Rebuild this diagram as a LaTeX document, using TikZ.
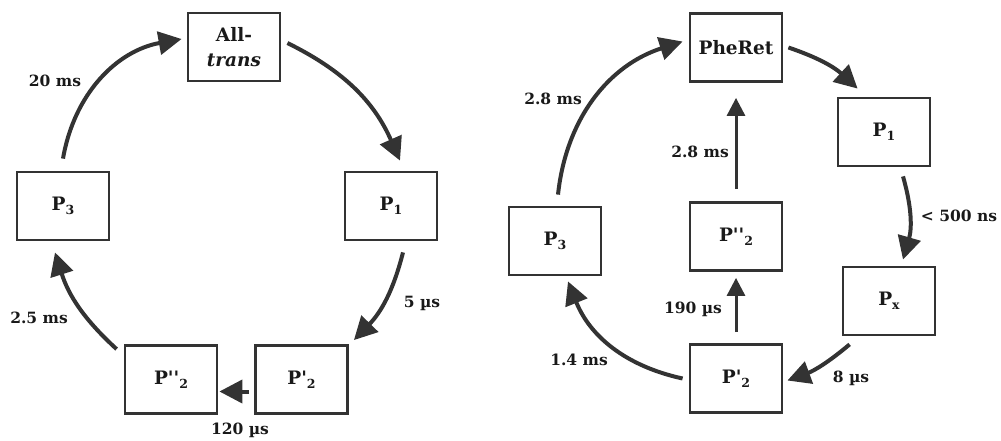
\documentclass[tikz,border=0pt]{standalone}
\usepackage{fontspec}
\setmainfont{DejaVu Serif}
\usetikzlibrary{arrows.meta}
\definecolor{ink}{HTML}{333333}
\newcommand{\mysub}[1]{\raisebox{-0.45ex}{\fontsize{12.5}{12.5}\selectfont #1}}
\tikzset{
  box/.style={draw=ink, line width=2.8pt, minimum width=92pt, minimum height=68pt, inner sep=0pt, font=\fontsize{18.5}{25}\selectfont\bfseries, align=center, text=black!90},
  arr/.style={draw=ink, line width=4pt, -{Triangle[length=23pt,width=23pt]}},
  thinarr/.style={draw=ink, line width=3pt, -{Triangle[length=18pt,width=18pt]}},
  lbl/.style={font=\fontsize{15.5}{18}\selectfont\bfseries, text=black!90, inner sep=0pt}
}
\begin{document}
\begin{tikzpicture}[x=1pt,y=-1pt]
\useasboundingbox (0,0) rectangle (1001,441);
% left cycle
\node[box] (at) at (234,47) {All-\\\textit{trans}};
\node[box] (p3L) at (63,206) {P\mysub{3}};
\node[box] (p1L) at (391,206) {P\mysub{1}};
\node[box] (p2bL) at (171,379.5) {P\textquotesingle\textquotesingle\mysub{2}};
\node[box] (p2aL) at (301.5,379.5) {P\textquotesingle\mysub{2}};
\draw[arr] ([shift={(0,-12)}]p3L.north) to[bend left=35] ([shift={(-5,-8)}]at.west);
\draw[arr] ([shift={(6,-4)}]at.east) to[bend left=20] ([shift={(9,-10)}]p1L.north);
\draw[arr] ([shift={(12,11)}]p1L.south) to[bend left=15] ([shift={(5,-4)}]p2aL.north east);
\draw[arr] ([shift={(-5,12)}]p2aL.west) -- ([shift={(1,12)}]p2bL.east);
\draw[arr] ([shift={(-7,5)}]p2bL.north west) to[bend left=15] ([shift={(-8,11)}]p3L.south);
\node[lbl] (l20) at (55,81) {20 ms};
\node[lbl] (l5) at (422,303) {5 µs};
\node[lbl] (l120) at (240,430) {120 µs};
\node[lbl] (l25) at (39,318) {2.5 ms};
% right cycle
\node[box] (pr) at (736,47.5) {PheRet};
\node[box] (p1R) at (884,132) {P\mysub{1}};
\node[box] (p3R) at (555,241) {P\mysub{3}};
\node[box] (p2bR) at (736,236.5) {P\textquotesingle\textquotesingle\mysub{2}};
\node[box] (pxR) at (889,301) {P\mysub{x}};
\node[box] (p2aR) at (736,378.5) {P\textquotesingle\mysub{2}};
\draw[arr] ([shift={(3,-11)}]p3R.north) to[bend left=33] ([shift={(-6,-6)}]pr.west);
\draw[arr] ([shift={(5,0)}]pr.east) to[bend left=12] ([shift={(21,-8)}]p1R.north west);
\draw[arr] ([shift={(19,9)}]p1R.south) to[bend left=16] ([shift={(14,-6)}]pxR.north);
\draw[arr] ([shift={(8,8)}]pxR.south west) to[bend left=10] ([shift={(4,2)}]p2aR.east);
\draw[thinarr] ([shift={(0,-11)}]p2aR.north) -- ([shift={(0,6)}]p2bR.south);
\draw[thinarr] ([shift={(0,-12)}]p2bR.north) -- ([shift={(0,15)}]pr.south);
\draw[arr] ([shift={(-6,0)}]p2aR.west) to[bend left=28] ([shift={(13,5)}]p3R.south);
\node[lbl] (r28a) at (553,99) {2.8 ms};
\node[lbl] (r500) at (959,216) {< 500 ns};
\node[lbl] (r8) at (851,378) {8 µs};
\node[lbl] (r190) at (693,309) {190 µs};
\node[lbl] (r28b) at (700,152) {2.8 ms};
\node[lbl] (r14) at (579,360) {1.4 ms};
\end{tikzpicture}
\end{document}
